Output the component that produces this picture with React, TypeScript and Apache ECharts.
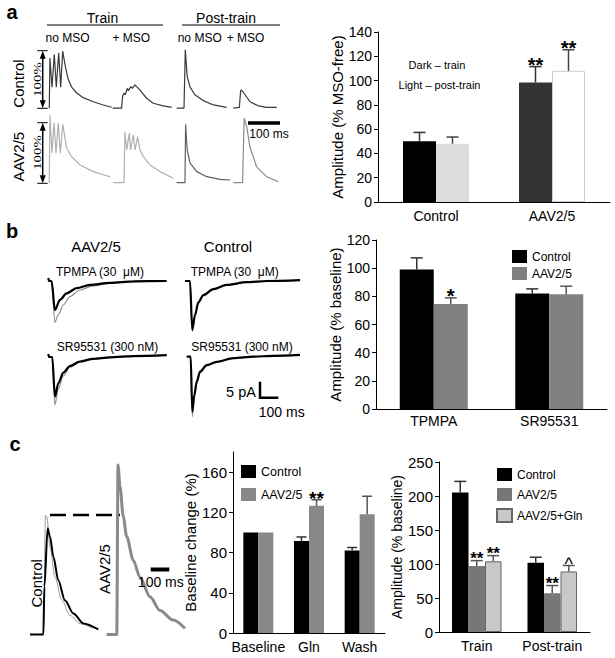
import React, { useEffect, useRef } from 'react';
import * as echarts from 'echarts';

const FF = "'Liberation Sans', Arial, Helvetica, sans-serif";
const SERIF = "'Liberation Serif', 'Times New Roman', serif";

// ---------- Panel a: bar chart (% MSO-free) ----------
const aCats = ['Control', 'AAV2/5'];
const aTrain = [50, 98.5];
const aTrainSem = [7.3, 13];
const aTrainSig = ['', '**'];
const aPost = [48, 108];
const aPostSem = [5.5, 17.4];
const aPostSig = ['', '**'];
const aYTicks = [0, 140, 20];

// ---------- Panel a: traces (ms, % of MSO-free) ----------
const aCtlTrainNo = [[29, 0], [31, 86], [37.5, 36], [44.7, 92], [50.9, 36], [58.4, 95], [64.7, 36], [70.9, 98], [79, 72], [88.4, 49], [99, 36], [114.7, 26], [135, 18], [166.5, 11], [197.8, 5.5], [224, 1.5]];
const aCtlTrainMso = [[227, 0], [255, 0], [258, 19.5], [262.5, 26], [266.6, 23], [272.8, 34], [276, 30], [284, 37], [288.4, 34], [297, 40], [312.5, 31], [333, 17], [354, 8.4], [385, 3.8], [411.5, 1.5]];
const aCtlPostNo = [[427, 0], [450, 0], [454, 100], [460, 54], [469, 36], [484, 23], [510, 13], [542, 5.5], [583, 1.5]];
const aCtlPostMso = [[604, 0], [623, 1.5], [627, 30], [630, 31], [641, 23], [656, 11], [682, 4], [708, 1.5], [740, 1.5]];
const aAavTrainNo = [[29, 0], [31, 113], [37.5, 50], [43.8, 100], [50, 50], [57, 100], [63.5, 50], [71, 98], [83, 58], [98.5, 44], [125, 30], [166.5, 19], [219, 10.5]];
const aAavTrainMso = [[229, 0.5], [262.5, 0.5], [265.6, 85], [271, 55], [279, 83], [283, 55], [291.6, 80], [297, 55], [305, 77], [312.5, 55], [323, 44], [344, 30], [375, 19], [416.6, 8]];
const aAavPostNo = [[427, 0.5], [453, 0.5], [455, 98], [460, 55], [469, 33], [490, 19], [521, 10.5], [562.5, 6], [594, 5]];
const aAavPostMso = [[604, 0.5], [633, 0.5], [638, 108], [646, 94], [656, 60], [677, 27], [708, 10.5], [745, 2]];

// ---------- Panel b: bar chart (% baseline) ----------
const bCats = ['TPMPA', 'SR95531'];
const bCtl = [99, 82];
const bCtlSem = [8.3, 3.3];
const bCtlSig = ['', ''];
const bAav = [74.5, 81.5];
const bAavSem = [4.4, 5.7];
const bAavSig = ['*', ''];
const bYTicks = [0, 120, 20];

// ---------- Panel b: traces (ms, pA) ----------
const bAavTpBlack = [[0, 1], [4, 0], [15, 0], [30, -9.7], [53, -6.3], [83, -4.1], [129, -2.4], [189, -1.3], [280, -0.6], [386, -0.1], [538, 0]];
const bAavTpGray = [[0, 1], [4, 0], [15, 0], [30, -13.8], [45, -11.3], [68, -8], [98, -5.2], [144, -3], [204, -1.6], [280, -0.8], [386, -0.2], [538, 0]];
const bCtlTpBlack = [[0, 0], [22.7, 0], [33, -16.3], [45.5, -11.3], [60.6, -7.1], [83, -4.7], [129, -2.7], [189, -1.3], [280, -0.4], [371, 0], [523, 0.3]];
const bCtlTpGray = [[0, 0], [22.7, 0], [33, -16.8], [45.5, -11.8], [60.6, -7.5], [83, -5], [129, -2.9], [189, -1.4], [280, -0.5], [371, -0.1], [523, 0.2]];
const bAavSrBlack = [[0, 1], [4, 0], [18, 0], [30, -13.2], [45.5, -8.8], [68, -5.2], [98, -3], [144, -1.5], [204, -0.6], [280, -0.1], [386, 0.3], [538, 0.6]];
const bAavSrGray = [[0, 1], [4, 0], [18, 0], [30, -16], [45.5, -10.6], [68, -6.3], [98, -3.5], [144, -1.7], [204, -0.7], [280, -0.1], [386, 0.3], [538, 0.6]];
const bCtlSrBlack = [[0, 0], [18, 0], [25.5, -18.3], [34.5, -12.8], [45.5, -8.3], [60.5, -5], [91, -2.8], [136, -1.7], [212, -0.5], [303, 0], [394, 0.3], [515, 0.6]];
const bCtlSrGray = [[0, 0], [18, 0], [25.5, -20], [34.5, -14], [45.5, -9], [60.5, -5.5], [91, -3], [136, -1.8], [212, -0.6], [303, 0], [394, 0.3], [515, 0.6]];

// ---------- Panel c: traces (ms, % of control peak) ----------
const cCtlBlack = [[0, 0], [74, 0], [80, 40], [98, 89], [111, 82], [130, 65], [157, 45.5], [194, 28.7], [241, 17.6], [296, 9.2], [379, 4.2]];
const cCtlGray = [[0, 0], [75, 0], [86, 100], [94, 98], [111, 73], [139, 48], [176, 29], [222, 16], [278, 9], [352, 5]];
const cAav = [[426, 0], [472, 0], [482, 0], [489, 142], [500, 124], [518, 99], [537, 82], [574, 62], [611, 48], [667, 31.5], [722, 20], [796, 12], [861, 5]];
const cPeakRef = [[111, 100], [500, 100]];

// ---------- Panel c: middle bar chart (baseline change %) ----------
const cmCats = ['Baseline', 'Gln', 'Wash'];
const cmCtl = [100, 91.5, 82];
const cmCtlSem = [0, 4, 3];
const cmCtlSig = ['', '', ''];
const cmAav = [100, 126.5, 118];
const cmAavSem = [0, 6, 18];
const cmAavSig = ['', '**', ''];
const cmYTicks = [0, 180, 40];

// ---------- Panel c: right bar chart (% baseline) ----------
const crCats = ['Train', 'Post-train'];
const crCtl = [205, 102];
const crCtlSem = [16.5, 8];
const crCtlSig = ['', ''];
const crAav = [97, 57];
const crAavSem = [8, 11.3];
const crAavSig = ['**', '**'];
const crGln = [104, 89];
const crGlnSem = [8.3, 8.8];
const crGlnSig = ['**', '^'];
const crYTicks = [0, 250, 50];

function errBars(name: string, xi: number, vals: number[], sems: number[], sigs: string[], k: number, n: number, barW: number, color: string, capHalf: number, starSize: number) {
  return {
    type: 'custom', name, xAxisIndex: xi, yAxisIndex: xi, z: 5, clip: false,
    data: vals.map((v, i) => [i, v, v + sems[i], sems[i]]),
    renderItem: (params: any, api: any) => {
      const i = api.value(0), v = api.value(1), top = api.value(2), sem = api.value(3);
      const sig = sigs[params.dataIndex];
      const b = api.coord([i, v]);
      const t = api.coord([i, top]);
      const x = b[0] + (k - (n - 1) / 2) * barW;
      const children: any[] = [];
      if (sem > 0) {
        children.push({ type: 'line', shape: { x1: x, y1: b[1], x2: x, y2: t[1] }, style: { stroke: color, lineWidth: 1.5 } });
        children.push({ type: 'line', shape: { x1: x - capHalf, y1: t[1], x2: x + capHalf, y2: t[1] }, style: { stroke: color, lineWidth: 1.5 } });
      }
      if (sig) {
        const caret = sig === '^';
        const y = caret ? t[1] - 5 + 0.18 * starSize : t[1] - 6 + 0.23 * starSize;
        children.push({ type: 'text', x, y, style: { text: sig, fontSize: caret ? starSize + 1 : starSize, fontWeight: caret ? 'normal' : 'bold', fontFamily: FF, fill: '#000', align: 'center', verticalAlign: 'middle' } });
      }
      return { type: 'group', children };
    },
  };
}

function bars(name: string, xi: number, vals: any[], color: string, barW: number, border?: string) {
  return {
    type: 'bar', name, xAxisIndex: xi, yAxisIndex: xi, data: vals, barWidth: barW, barGap: '0%', z: 3,
    itemStyle: { color, borderColor: border || color, borderWidth: border ? 1 : 0 },
  };
}

function traceLine(xi: number, data: number[][], color: string, width: number, smooth: number | boolean = false, type: any = 'solid') {
  return {
    type: 'line', xAxisIndex: xi, yAxisIndex: xi, data, showSymbol: false, symbol: 'none', smooth,
    smoothMonotone: 'x', lineStyle: { color, width, type }, z: 2, silent: true,
  };
}

const traceX = (gi: number, min: number, max: number) => ({ type: 'value', gridIndex: gi, min, max, show: false });
const traceY = (gi: number, min: number, max: number) => ({ type: 'value', gridIndex: gi, min, max, show: false });

function barX(gi: number, cats: string[], fs: number, margin: number) {
  return {
    type: 'category', gridIndex: gi, data: cats,
    axisTick: { show: false }, axisLine: { lineStyle: { color: '#000', width: 1 } },
    axisLabel: { color: '#000', fontSize: fs, fontFamily: FF, margin, interval: 0, hideOverlap: false },
  };
}
function barY(gi: number, ticks: number[], fs: number, name: string, nameFs: number, nameGap: number, hideMax = false) {
  return {
    type: 'value', gridIndex: gi, min: ticks[0], max: ticks[1], interval: ticks[2],
    axisLine: { show: true, lineStyle: { color: '#000', width: 1 } },
    axisTick: { show: true, length: 4, lineStyle: { color: '#000' } },
    splitLine: { show: false },
    axisLabel: { color: '#000', fontSize: fs, fontFamily: FF, margin: 6, showMaxLabel: !hideMax },
    name, nameLocation: 'middle', nameGap, nameTextStyle: { color: '#000', fontSize: nameFs, fontFamily: FF },
  };
}

const T = (text: string, x: number, y: number, fs: number, o: any = {}) => ({
  type: 'text', x, y, rotation: o.rot ? Math.PI / 2 : 0, scaleX: o.sx || 1, z: 10,
  style: { text, fontSize: fs, fontFamily: o.ff || FF, fontWeight: o.fw || 'normal', fill: '#000', align: 'center', verticalAlign: 'middle' },
});
const L = (x1: number, y1: number, x2: number, y2: number, w = 1) => ({
  type: 'line', z: 10, shape: { x1, y1, x2, y2 }, style: { stroke: '#000', lineWidth: w },
});
const P = (pts: number[][]) => ({ type: 'polygon', z: 10, shape: { points: pts }, style: { fill: '#000' } });

function doubleArrow(x: number, y1: number, y2: number) {
  return [
    L(x, y1 + 4, x, y2 - 4, 1.5),
    L(x - 5.5, y1, x + 5, y1, 1),
    L(x - 5.5, y2, x + 5, y2, 1),
    P([[x, y1], [x - 3, y1 + 8], [x + 3, y1 + 8]]),
    P([[x, y2], [x - 3, y2 - 8], [x + 3, y2 - 8]]),
  ];
}

const legendFmt = (name: string) => name.slice(name.indexOf(':') + 1);

export default function App() {
  const ref = useRef<HTMLDivElement>(null);
  useEffect(() => {
    const chart = echarts.init(ref.current!, undefined, { renderer: 'svg' });
    const option: any = {
      animation: false,
      textStyle: { fontFamily: FF },
      grid: [
        { left: 40, top: 44, width: 256, height: 70 },
        { left: 40, top: 111, width: 256, height: 78 },
        { left: 378, top: 32, width: 232, height: 170 },
        { left: 48.3, top: 275, width: 118.8, height: 72 },
        { left: 185, top: 275, width: 118.8, height: 72 },
        { left: 48.3, top: 351, width: 118.8, height: 72 },
        { left: 186.7, top: 350.7, width: 118.8, height: 72 },
        { left: 376, top: 240, width: 231, height: 169 },
        { left: 30, top: 455.4, width: 156.6, height: 185 },
        { left: 233, top: 452, width: 152, height: 181 },
        { left: 439, top: 462, width: 151, height: 170 },
      ],
      xAxis: [
        traceX(0, 0, 800), traceX(1, 0, 800),
        barX(2, aCats, 14, 7),
        traceX(3, 0, 540), traceX(4, 0, 540), traceX(5, 0, 540), traceX(6, 0, 540),
        barX(7, bCats, 14, 5),
        traceX(8, 0, 870),
        barX(9, cmCats, 14, 7),
        barX(10, crCats, 14, 7),
      ],
      yAxis: [
        traceY(0, -10, 110), traceY(1, -10, 120),
        barY(2, aYTicks, 14, 'Amplitude (% MSO-free)', 15, 32),
        traceY(3, -22, 2), traceY(4, -22, 2), traceY(5, -22, 2), traceY(6, -22, 2),
        barY(7, bYTicks, 14, 'Amplitude (% baseline)', 15, 29),
        traceY(8, -5, 150),
        barY(9, cmYTicks, 15, 'Baseline change (%)', 15, 27, true),
        barY(10, crYTicks, 15, 'Amplitude (% baseline)', 14, 29),
      ],
      legend: [
        { data: ['b:Control', 'b:AAV2/5'], left: 512, top: 250, orient: 'vertical', icon: 'rect', itemWidth: 15, itemHeight: 13, itemGap: 4, padding: 0, selectedMode: false, formatter: legendFmt, textStyle: { fontSize: 12, color: '#000', fontFamily: FF } },
        { data: ['cm:Control', 'cm:AAV2/5'], left: 241, top: 465, orient: 'vertical', icon: 'rect', itemWidth: 15, itemHeight: 13, itemGap: 10, padding: 0, selectedMode: false, formatter: legendFmt, textStyle: { fontSize: 12.5, color: '#000', fontFamily: FF } },
        { data: ['cr:Control', 'cr:AAV2/5', 'cr:AAV2/5+Gln'], left: 496, top: 468, orient: 'vertical', icon: 'rect', itemWidth: 15, itemHeight: 13, itemGap: 7, padding: 0, selectedMode: false, formatter: legendFmt, textStyle: { fontSize: 12, color: '#000', fontFamily: FF } },
      ],
      series: [
        // panel a traces
        traceLine(0, aCtlTrainNo, '#3a3a3a', 1.2),
        traceLine(0, aCtlTrainMso, '#3a3a3a', 1.2),
        traceLine(0, aCtlPostNo, '#3a3a3a', 1.2),
        traceLine(0, aCtlPostMso, '#3a3a3a', 1.2),
        traceLine(1, aAavTrainNo, '#b0b0b0', 1.2),
        traceLine(1, aAavTrainMso, '#b0b0b0', 1.2),
        traceLine(1, aAavPostNo, '#606060', 1.2),
        traceLine(1, aAavPostMso, '#8a8a8a', 1.2),
        // panel a bars
        bars('a:train', 2, aTrain.map((v, i) => ({ value: v, itemStyle: { color: ['#000', '#333'][i] } })), '#000', 33),
        bars('a:post', 2, aPost.map((v, i) => ({ value: v, itemStyle: { color: ['#dcdcdc', '#ffffff'][i], borderColor: ['#dcdcdc', '#cfcfcf'][i], borderWidth: 1 } })), '#dcdcdc', 33),
        errBars('a:trainErr', 2, aTrain, aTrainSem, aTrainSig, 0, 2, 33, '#333', 6, 20),
        errBars('a:postErr', 2, aPost, aPostSem, aPostSig, 1, 2, 33, '#444', 6, 20),
        // panel b traces
        traceLine(3, bAavTpGray, '#909090', 1.2, 0.3),
        traceLine(3, bAavTpBlack, '#000', 2.2, 0.3),
        traceLine(4, bCtlTpGray, '#909090', 1.2, 0.3),
        traceLine(4, bCtlTpBlack, '#000', 2.2, 0.3),
        traceLine(5, bAavSrGray, '#909090', 1.2, 0.3),
        traceLine(5, bAavSrBlack, '#000', 2.2, 0.3),
        traceLine(6, bCtlSrGray, '#909090', 1.2, 0.3),
        traceLine(6, bCtlSrBlack, '#000', 2.2, 0.3),
        // panel b bars
        bars('b:Control', 7, bCtl, '#000', 34),
        bars('b:AAV2/5', 7, bAav, '#808080', 34),
        errBars('b:ctlErr', 7, bCtl, bCtlSem, bCtlSig, 0, 2, 34, '#333', 6, 20),
        errBars('b:aavErr', 7, bAav, bAavSem, bAavSig, 1, 2, 34, '#555', 6, 20),
        // panel c traces
        traceLine(8, cCtlGray, '#999', 1, 0.3),
        traceLine(8, cCtlBlack, '#000', 2, 0.3),
        traceLine(8, cAav, '#8a8a8a', 3, 0.3),
        traceLine(8, cPeakRef, '#000', 2.5, false, [16, 7]),
        // panel c middle bars
        bars('cm:Control', 9, cmCtl, '#000', 15),
        bars('cm:AAV2/5', 9, cmAav, '#888', 15),
        errBars('cm:ctlErr', 9, cmCtl, cmCtlSem, cmCtlSig, 0, 2, 15, '#333', 5, 19),
        errBars('cm:aavErr', 9, cmAav, cmAavSem, cmAavSig, 1, 2, 15, '#555', 5, 19),
        // panel c right bars
        bars('cr:Control', 10, crCtl, '#000', 16.5),
        bars('cr:AAV2/5', 10, crAav, '#777', 16.5),
        bars('cr:AAV2/5+Gln', 10, crGln, '#c8c8c8', 16.5, '#666'),
        errBars('cr:ctlErr', 10, crCtl, crCtlSem, crCtlSig, 0, 3, 16.5, '#333', 6, 17),
        errBars('cr:aavErr', 10, crAav, crAavSem, crAavSig, 1, 3, 16.5, '#555', 6, 17),
        errBars('cr:glnErr', 10, crGln, crGlnSem, crGlnSig, 2, 3, 16.5, '#555', 6, 17),
      ],
      graphic: [
        // panel letters
        T('a', 12, 12, 20, { fw: 'bold' }),
        T('b', 12, 231, 20, { fw: 'bold' }),
        T('c', 15, 443.5, 20, { fw: 'bold' }),
        // panel a headers
        T('Train', 102.5, 17.5, 14), L(47, 25, 163, 25),
        T('Post-train', 226, 17.5, 14), L(182, 25, 280, 25),
        T('no MSO', 67.5, 37.5, 12), T('+ MSO', 131.3, 37.5, 12),
        T('no MSO', 199.7, 37.5, 12), T('+ MSO', 245.5, 37.5, 12),
        T('Control', 18, 83.5, 15, { rot: true }),
        T('AAV2/5', 18, 156.7, 15, { rot: true }),
        T('100%', 37, 79.5, 11, { rot: true, ff: SERIF, sx: 1.35 }),
        T('100%', 37, 152.5, 11, { rot: true, ff: SERIF, sx: 1.35 }),
        ...doubleArrow(42.7, 50.7, 108.3),
        ...doubleArrow(42.7, 122.7, 183.3),
        L(248, 123, 280, 123, 3.5), T('100 ms', 269, 134, 12),
        T('Dark \u2013 train', 437, 65, 11),
        T('Light \u2013 post-train', 439.5, 84.5, 11),
        // panel b
        T('AAV2/5', 96, 246.5, 15), T('Control', 228, 246.5, 15),
        T('TPMPA (30  \u03bcM)', 100, 271.7, 12), T('TPMPA (30  \u03bcM)', 234.7, 271.7, 12),
        T('SR95531 (300 nM)', 107.5, 347, 12), T('SR95531 (300 nM)', 242, 347, 12),
        T('5 pA', 241, 391.5, 14.5),
        { type: 'polyline', z: 10, shape: { points: [[260, 381.7], [260, 397.7], [278.3, 397.7]] }, style: { stroke: '#000', lineWidth: 2.5, fill: null } },
        T('100 ms', 281.7, 411.5, 14),
        // panel c
        T('Control', 36, 583.3, 15, { rot: true }),
        T('AAV2/5', 104.7, 569, 15, { rot: true }),
        L(150.7, 569.5, 169.3, 569.5, 4), T('100 ms', 160.8, 582, 14),
      ],
    };
    chart.setOption(option);
    return () => chart.dispose();
  }, []);
  return <div ref={ref} style={{ position: 'fixed', left: 0, top: 0, width: 615, height: 658, background: '#fff' }} />;
}
